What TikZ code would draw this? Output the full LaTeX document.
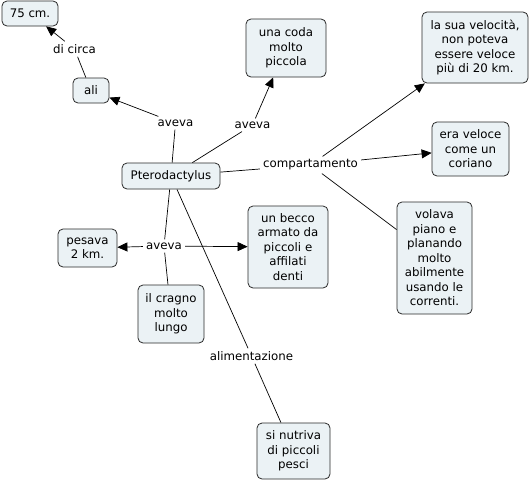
\documentclass[tikz,border=0pt]{standalone}
\usepackage{fontspec}
\setmainfont{DejaVu Sans}
\usetikzlibrary{arrows.meta}
\definecolor{boxfill}{HTML}{EBF2F5}
\definecolor{boxline}{HTML}{2A2A2A}
\begin{document}
\begin{tikzpicture}[x=1pt,y=-1pt,
  concept/.style={draw=boxline, fill=boxfill, rounded corners=5pt, line width=0.8pt,
    align=center, inner sep=0pt, font=\fontsize{11.8}{14.5}\selectfont},
  lbl/.style={inner sep=3pt, font=\fontsize{11.8}{14.5}\selectfont},
  link/.style={line width=0.7pt, draw=black},
  arr/.style={link, -{Triangle[length=10pt,width=9pt]}}]
\useasboundingbox (0,0) rectangle (530,482);
\fill[white] (0,0) rectangle (530,482);

% concepts
\node[concept, minimum width=56pt, minimum height=25pt] (cm) at (30,13.5) {75 cm.};
\node[concept, minimum width=36pt, minimum height=25pt] (ali) at (91,90.5) {ali};
\node[concept, minimum width=98pt, minimum height=26pt] (ptero) at (171,176) {Pterodactylus};
\node[concept, minimum width=80pt, minimum height=58pt] (coda) at (286,48) {una coda\\molto\\piccola};
\node[concept, minimum width=106pt, minimum height=71pt] (vel) at (475,47.5) {la sua velocità,\\non poteva\\essere veloce\\più di 20 km.};
\node[concept, minimum width=77pt, minimum height=54pt] (era) at (470.5,149) {era veloce\\come un\\coriano};
\node[concept, minimum width=75pt, minimum height=112pt] (vol) at (434.5,258) {volava\\piano e\\planando\\molto\\abilmente\\usando le\\correnti.};
\node[concept, minimum width=80pt, minimum height=82pt] (becco) at (288,247) {un becco\\armato da\\piccoli e\\affilati\\denti};
\node[concept, minimum width=59pt, minimum height=38pt] (pes) at (87.5,248) {pesava\\2 km.};
\node[concept, minimum width=66pt, minimum height=58pt] (cra) at (171,314) {il cragno\\molto\\lungo};
\node[concept, minimum width=73pt, minimum height=56pt] (nut) at (293.5,451) {si nutriva\\di piccoli\\pesci};

% linking phrases
\node[lbl] (dic) at (74.5,49) {di circa};
\node[lbl] (av1) at (175.5,123) {aveva};
\node[lbl] (av2) at (252.5,125) {aveva};
\node[lbl] (comp) at (310.5,165) {compartamento};
\node[lbl] (av3) at (164,246) {aveva};
\node[lbl] (alim) at (251.5,356) {alimentazione};

% connectors
\draw[link] (ali) -- (dic);
\draw[arr] (dic) -- (cm);
\draw[link] (ptero) -- (av1);
\draw[arr] (av1) -- (ali);
\draw[link] (ptero) -- (av2);
\draw[arr] (av2) -- (coda);
\draw[link] (ptero) -- (comp);
\draw[arr] (comp) -- (vel);
\draw[arr] (comp) -- (era);
\draw[link] (comp) -- (vol);
\draw[link] (ptero) -- (av3);
\draw[arr] (av3) -- (pes);
\draw[arr] (av3) -- (becco);
\draw[link] (av3) -- (cra);
\draw[link] (ptero) -- (alim);
\draw[link] (alim) -- (nut);
\end{tikzpicture}
\end{document}
